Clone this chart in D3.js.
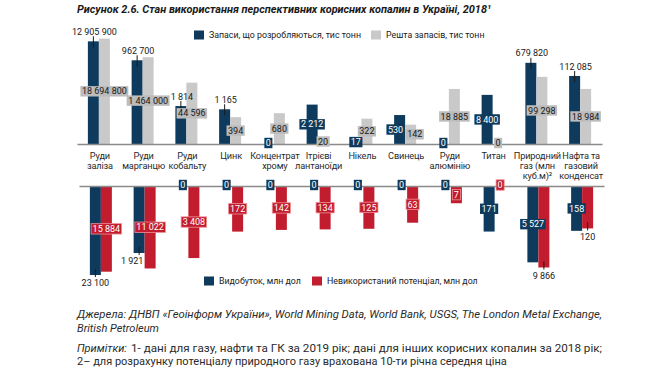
<!DOCTYPE html>
<html>
<head>
<meta charset="utf-8">
<script src="https://cdn.jsdelivr.net/npm/d3@7"></script>
<style>
  body { margin: 0; background: #fff; }
  svg { display: block; font-family: Roboto, "Noto Sans", sans-serif; }
</style>
</head>
<body>
<div id="chart"></div>
<script>
// категорії (рядки розділені "|")
var categories = ["Руди|заліза", "Руди|марганцю", "Руди|кобальту", "Цинк", "Концентрат|хрому",
    "Ітрієві|лантаноїди", "Нікель", "Свинець", "Руди|алюмінію", "Титан",
    "Природний|газ (млн|куб.м)²", "Нафта та|газовий|конденсат"];

// запаси, тис тонн
var reservesDev = [12905900, 962700, 1814, 1165, 0, 2212, 17, 530, 0, 8400, 679820, 112085];
var reservesRest = [18694800, 1464000, 44596, 394, 680, 20, 322, 142, 18885, 0, 99298, 18984];

// млн дол
var production = [23100, 1921, 0, 0, 0, 0, 0, 0, 0, 171, 5527, 158];
var potential = [15884, 11022, 3408, 172, 142, 134, 125, 63, 7, 0, 9866, 120];

// підписи винесені за кінець стовпчика
var devLabelOut = [1, 1, 1, 1, 0, 0, 0, 0, 0, 0, 1, 1];
var prodLabelOut = [1, 1, 0, 0, 0, 0, 0, 0, 0, 0, 0, 0];
var potLabelOut = [0, 0, 0, 0, 0, 0, 0, 0, 0, 0, 1, 1];

var C_DARK = "#0e3b5d", C_GREY = "#c9c9c9", C_RED = "#c21d2e";

var width = 670, height = 374;
var fmt = d3.formatLocale({ decimal: ",", thousands: " ", grouping: [3], currency: ["", ""] }).format(",");

var svg = d3.select("#chart").append("svg")
    .attr("width", width)
    .attr("height", height);

// заголовок
svg.append("text")
    .attr("x", 77).attr("y", 13)
    .attr("font-size", 11.5).attr("font-weight", "bold").attr("font-style", "italic")
    .attr("fill", "#1a1a1a")
    .attr("textLength", 414).attr("lengthAdjust", "spacingAndGlyphs")
    .text("Рисунок 2.6. Стан використання перспективних корисних копалин в Україні, 2018¹");

// шкали
var xTop = d3.scaleBand().domain(d3.range(categories.length)).range([77, 602]);
var xBot = d3.scaleBand().domain(d3.range(categories.length)).range([79, 604]);
var inner = d3.scaleBand().domain([0, 1]).range([0, 22]);
var off = (xTop.bandwidth() - 22) / 2;

var yTop = d3.scaleLog().domain([10, 1e8]).range([144, 144 - 16.8 * 7]);
var yBot = d3.scaleLog().domain([1, 1e5]).range([186, 186 + 20.4 * 5]);

function textWidth(txt) {
    var t = svg.append("text").attr("font-size", 9).text(txt);
    var w = t.node().getComputedTextLength();
    t.remove();
    return w;
}

function label(g, x, y, txt, kind) {
    var t = g.append("text")
        .attr("x", x).attr("y", y)
        .attr("dy", "0.35em")
        .attr("text-anchor", "middle")
        .attr("font-size", 9)
        .attr("fill", kind == "dark" || kind == "red" ? "#fff" : "#1a1a1a")
        .text(txt);
    if (kind != "plain") {
        var w = t.node().getComputedTextLength();
        g.insert("rect", function() { return t.node(); })
            .attr("x", x - w / 2 - 1.5).attr("y", y - 5.2)
            .attr("width", w + 3).attr("height", 10.4)
            .attr("fill", kind == "dark" ? C_DARK : kind == "red" ? C_RED : "#bcbcbc")
            .attr("stroke", kind == "red" ? "#ee8f97" : "none")
            .attr("stroke-width", 0.8);
    }
}

// верхня частина — запаси
var topPart = svg.append("g");
var topSeries = [
    { vals: reservesDev, color: C_DARK, box: "dark", out: devLabelOut },
    { vals: reservesRest, color: C_GREY, box: "grey", out: null }
];
topSeries.forEach(function(s, si) {
    topPart.append("g").selectAll("rect")
        .data(s.vals.map(function(v, i) { return { v: v, i: i }; }).filter(function(d) { return d.v > 0; }))
        .enter().append("rect")
        .attr("x", function(d) { return xTop(d.i) + off + inner(si); })
        .attr("width", inner.bandwidth())
        .attr("y", function(d) { return yTop(d.v); })
        .attr("height", function(d) { return yTop(10) - yTop(d.v); })
        .attr("fill", s.color);
});

svg.append("g")
    .attr("transform", "translate(0,144)")
    .call(d3.axisBottom(xTop).tickSize(0).tickSizeOuter(0).tickFormat(""))
    .call(function(g) { g.select(".domain").attr("stroke", "#8a8a8a").attr("stroke-width", 1.3); });

// центровані підписи — розсунути, якщо вони наїжджають один на одного
function nudge(i) {
    var a = reservesDev[i], b = reservesRest[i];
    if (a <= 0 || b <= 0 || devLabelOut[i]) return 0;
    var ya = (yTop(a) + 144) / 2, yb = (yTop(b) + 144) / 2;
    if (Math.abs(ya - yb) > 10.5) return 0;
    var need = (textWidth(fmt(a)) + textWidth(fmt(b))) / 2 + 3 - inner.bandwidth();
    return need > 0 ? need / 2 + 0.5 : 0;
}

var topLabels = svg.append("g");
topSeries.forEach(function(s, si) {
    s.vals.forEach(function(v, i) {
        var cx = xTop(i) + off + inner(si) + inner.bandwidth() / 2;
        if (v <= 0) { label(topLabels, cx, 143, "0", s.box); return; }
        var yv = yTop(v);
        if (s.out && s.out[i]) {
            topLabels.append("line")
                .attr("x1", cx).attr("x2", cx)
                .attr("y1", yv - 5).attr("y2", yv + 6)
                .attr("stroke", "#1a1a1a").attr("stroke-width", 1);
            label(topLabels, cx + 1, yv - 9.5, fmt(v), "plain");
        } else {
            var dx = nudge(i) * (si == 0 ? -1 : 1);
            label(topLabels, cx + dx, (yv + 144) / 2, fmt(v), s.box);
        }
    });
});

// назви категорій
var cats = svg.append("g");
categories.forEach(function(c, i) {
    var t = cats.append("text")
        .attr("text-anchor", "middle")
        .attr("font-size", 9.2)
        .attr("letter-spacing", -0.15)
        .attr("fill", "#2a2a2a");
    c.split("|").forEach(function(line, k) {
        t.append("tspan")
            .attr("x", xTop(i) + xTop.bandwidth() / 2 + 1)
            .attr("y", 159 + k * 10)
            .text(line);
    });
});

// нижня частина — видобуток і потенціал
var botSeries = [
    { vals: production, color: C_DARK, box: "dark", out: prodLabelOut },
    { vals: potential, color: C_RED, box: "red", out: potLabelOut }
];
var botPart = svg.append("g");
botSeries.forEach(function(s, si) {
    botPart.append("g").selectAll("rect")
        .data(s.vals.map(function(v, i) { return { v: v, i: i }; }).filter(function(d) { return d.v > 0; }))
        .enter().append("rect")
        .attr("x", function(d) { return xBot(d.i) + off + inner(si); })
        .attr("width", inner.bandwidth())
        .attr("y", yBot(1))
        .attr("height", function(d) { return yBot(d.v) - yBot(1); })
        .attr("fill", s.color);
});

svg.append("g")
    .attr("transform", "translate(0,186)")
    .call(d3.axisBottom(xBot).tickSize(0).tickSizeOuter(0).tickFormat(""))
    .call(function(g) { g.select(".domain").attr("stroke", "#8a8a8a").attr("stroke-width", 1.3); });

var botLabels = svg.append("g");
botSeries.forEach(function(s, si) {
    s.vals.forEach(function(v, i) {
        var cx = xBot(i) + off + inner(si) + inner.bandwidth() / 2;
        if (v <= 0) { label(botLabels, cx, 185, "0", s.box); return; }
        var yv = yBot(v);
        if (s.out[i]) {
            botLabels.append("line")
                .attr("x1", cx).attr("x2", cx)
                .attr("y1", yv - 6).attr("y2", yv + 2)
                .attr("stroke", "#1a1a1a").attr("stroke-width", 1);
            label(botLabels, si == 0 && i == 1 ? cx - 7 : cx, yv + 8, fmt(v), "plain");
        } else {
            label(botLabels, cx, (yv + 186) / 2, fmt(v), s.box);
        }
    });
});

// легенди
function legend(items, y) {
    var g = svg.append("g");
    items.forEach(function(it) {
        g.append("rect").attr("x", it.x).attr("y", y - 4.5).attr("width", 10).attr("height", 9).attr("fill", it.color);
        g.append("text").attr("x", it.x + 15).attr("y", y).attr("dy", "0.35em")
            .attr("font-size", 8.8).attr("fill", "#1a1a1a").text(it.text);
    });
}
legend([
    { x: 194, color: C_DARK, text: "Запаси, що розробляються, тис тонн" },
    { x: 371, color: C_GREY, text: "Решта запасів, тис тонн" }
], 35);
legend([
    { x: 204, color: C_DARK, text: "Видобуток, млн дол" },
    { x: 312, color: C_RED, text: "Невикористаний потенціал, млн дол" }
], 281);

// джерела і примітки
var notes = svg.append("g").attr("font-size", 11).attr("fill", "#2b2b2b");
notes.append("text").attr("x", 77).attr("y", 318).attr("font-style", "italic")
    .attr("textLength", 525).attr("lengthAdjust", "spacingAndGlyphs")
    .text("Джерела: ДНВП «Геоінформ України», World Mining Data, World Bank, USGS, The London Metal Exchange,");
notes.append("text").attr("x", 77).attr("y", 332).attr("font-style", "italic")
    .text("British Petroleum");
var pr = notes.append("text").attr("x", 77).attr("y", 352).attr("font-style", "italic").text("Примітки:");
var pw = pr.node().getComputedTextLength() + 4;
notes.append("text").attr("x", 77 + pw).attr("y", 352)
    .attr("textLength", 525 - pw).attr("lengthAdjust", "spacingAndGlyphs")
    .text("1- дані для газу, нафти та ГК за 2019 рік; дані для інших корисних копалин за 2018 рік;");
notes.append("text").attr("x", 77).attr("y", 365)
    .text("2– для розрахунку потенціалу природного газу врахована 10-ти річна середня ціна");
</script>
</body>
</html>
